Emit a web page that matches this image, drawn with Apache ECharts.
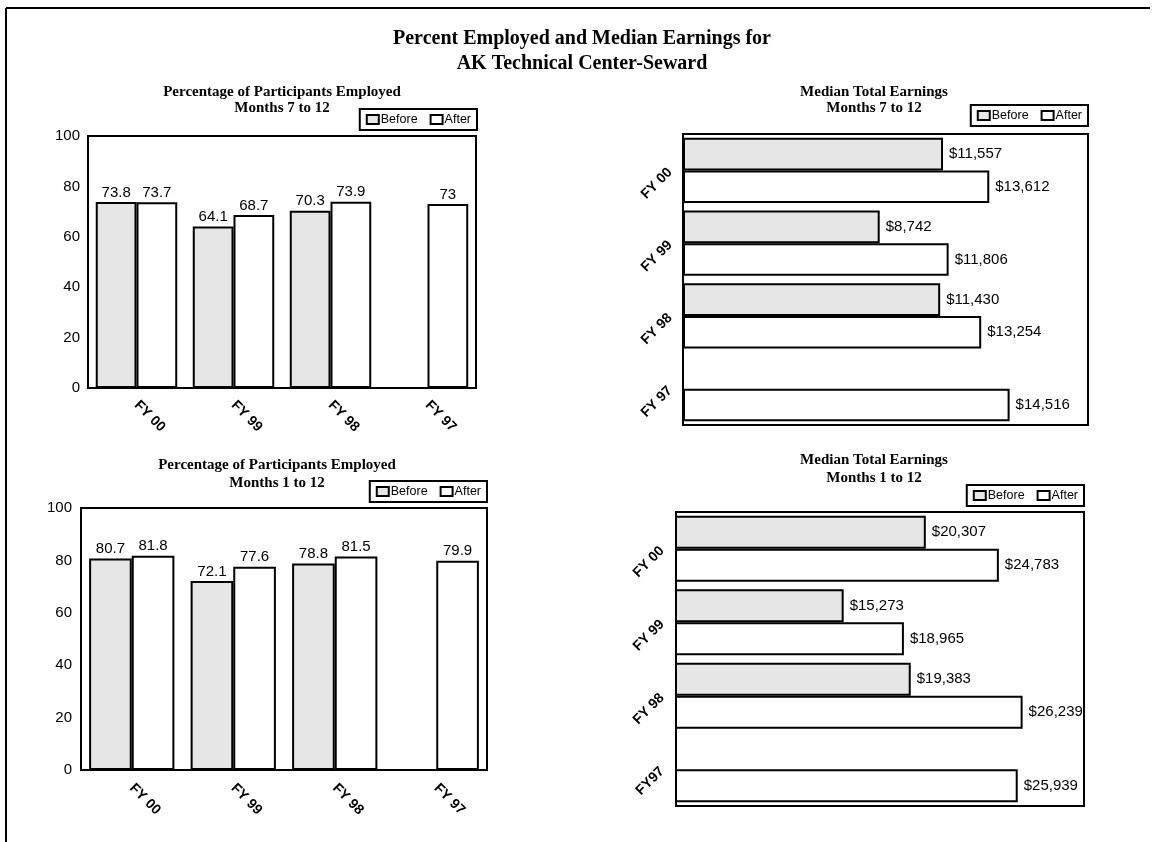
<!DOCTYPE html>
<html>
<head>
<meta charset="utf-8">
<script src="https://cdn.jsdelivr.net/npm/echarts@6/dist/echarts.min.js"></script>
<style>
html,body{margin:0;padding:0;background:#fff;}
#chart{width:1153px;height:842px;}
</style>
</head>
<body>
<div id="chart"></div>
<script>
// ---- data ----
const categories = ['FY 00', 'FY 99', 'FY 98', 'FY 97'];
const categoriesBR = ['FY 00', 'FY 99', 'FY 98', 'FY97'];
const emp712Before = [73.8, 64.1, 70.3, null];
const emp712After = [73.7, 68.7, 73.9, 73];
const emp112Before = [80.7, 72.1, 78.8, null];
const emp112After = [81.8, 77.6, 81.5, 79.9];
const earn712Before = [11557, 8742, 11430, null];
const earn712After = [13612, 11806, 13254, 14516];
const earn112Before = [20307, 15273, 19383, null];
const earn112After = [24783, 18965, 26239, 25939];
const pctTicks = [0, 20, 40, 60, 80, 100];

const SANS = "'Liberation Sans', Arial, sans-serif";
const SERIF = "'Liberation Serif', 'Times New Roman', serif";
const BEFORE_COLOR = '#e6e6e6';

const chart = echarts.init(document.getElementById('chart'), null, {renderer: 'canvas'});

function money(v) { return '$' + v.toLocaleString('en-US'); }

function subTitle(lines, x, top, lh) {
  return {
    text: lines, left: x, top: top, textAlign: 'center',
    textStyle: {fontFamily: SERIF, fontWeight: 'bold', fontSize: 15, lineHeight: lh, color: '#000'}
  };
}
function legend(right, top) {
  return {
    data: ['Before', 'After'], right: right, top: top,
    orient: 'horizontal', icon: 'rect', itemWidth: 12, itemHeight: 9, itemGap: 12,
    borderColor: '#000', borderWidth: 2, padding: [4, 6],
    textStyle: {fontFamily: SANS, fontSize: 12.5, color: '#000', padding: [0, 0, 0, -3]},
    selectedMode: false
  };
}
const gridBase = {show: true, borderColor: '#000', borderWidth: 2, backgroundColor: '#fff', containLabel: false};
const labelFont = {fontFamily: SANS, fontSize: 15, color: '#000'};
const catLabel = {fontFamily: SANS, fontSize: 14, fontWeight: 'bold', color: '#000'};

function vBar(name, data, idx, color) {
  return {
    type: 'bar', name: name, data: data, xAxisIndex: idx, yAxisIndex: idx,
    barWidth: '42%', barGap: '0%',
    itemStyle: {color: color, borderColor: '#000', borderWidth: 2},
    label: Object.assign({show: true, position: 'top', distance: 2}, labelFont),
    animation: false
  };
}
function hBar(name, data, idx, color) {
  return {
    type: 'bar', name: name, data: data, xAxisIndex: idx, yAxisIndex: idx,
    barWidth: '45%', barGap: '0%',
    itemStyle: {color: color, borderColor: '#000', borderWidth: 2},
    label: Object.assign({show: true, position: 'right', distance: 6,
      formatter: p => money(p.value)}, labelFont),
    animation: false
  };
}

const option = {
  backgroundColor: '#fff',
  animation: false,
  title: [
    {
      text: 'Percent Employed and Median Earnings for\nAK Technical Center-Seward',
      left: 577, top: 21, textAlign: 'center',
      textStyle: {fontFamily: SERIF, fontWeight: 'bold', fontSize: 20, lineHeight: 25, color: '#000'}
    },
    subTitle('Percentage of Participants Employed\nMonths 7 to 12', 277, 79, 16),
    subTitle('Median Total Earnings\nMonths 7 to 12', 869, 79, 16),
    subTitle('Percentage of Participants Employed\nMonths 1 to 12', 272, 451, 18),
    subTitle('Median Total Earnings\nMonths 1 to 12', 869, 446, 18)
  ],
  legend: [
    legend(1153 - 477, 109),
    legend(1153 - 1088, 105),
    legend(1153 - 487, 481),
    legend(1153 - 1084, 485)
  ],
  grid: [
    Object.assign({left: 88, top: 136, right: 1153 - 476, bottom: 842 - 388}, gridBase),
    Object.assign({left: 683, top: 134, right: 1153 - 1088, bottom: 842 - 425}, gridBase),
    Object.assign({left: 81, top: 508, right: 1153 - 487, bottom: 842 - 770}, gridBase),
    Object.assign({left: 676, top: 512, right: 1153 - 1084, bottom: 842 - 806}, gridBase)
  ],
  xAxis: [
    {type: 'category', gridIndex: 0, data: categories,
      axisLine: {show: true, lineStyle: {color: '#000', width: 2}}, axisTick: {show: false},
      axisLabel: Object.assign({rotate: -45, margin: 15, interval: 0}, catLabel)},
    {type: 'value', gridIndex: 1, min: 0, max: 18000, show: false, splitLine: {show: false}},
    {type: 'category', gridIndex: 2, data: categories,
      axisLine: {show: true, lineStyle: {color: '#000', width: 2}}, axisTick: {show: false},
      axisLabel: Object.assign({rotate: -45, margin: 16, interval: 0}, catLabel)},
    {type: 'value', gridIndex: 3, min: 5000, max: 30000, show: false, splitLine: {show: false}}
  ],
  yAxis: [
    {type: 'value', gridIndex: 0, min: pctTicks[0], max: pctTicks[pctTicks.length - 1], interval: 20,
      axisLine: {show: false}, axisTick: {show: false}, splitLine: {show: false},
      axisLabel: {margin: 8, fontFamily: SANS, fontSize: 15, color: '#000'}},
    {type: 'category', gridIndex: 1, data: categories, inverse: true,
      axisLine: {show: false}, axisTick: {show: false},
      axisLabel: Object.assign({rotate: 45, margin: 13, interval: 0}, catLabel)},
    {type: 'value', gridIndex: 2, min: pctTicks[0], max: pctTicks[pctTicks.length - 1], interval: 20,
      axisLine: {show: false}, axisTick: {show: false}, splitLine: {show: false},
      axisLabel: {margin: 9, fontFamily: SANS, fontSize: 15, color: '#000'}},
    {type: 'category', gridIndex: 3, data: categoriesBR, inverse: true,
      axisLine: {show: false}, axisTick: {show: false},
      axisLabel: Object.assign({rotate: 45, margin: 14, interval: 0}, catLabel)}
  ],
  series: [
    vBar('Before', emp712Before, 0, BEFORE_COLOR),
    vBar('After', emp712After, 0, '#fff'),
    hBar('Before', earn712Before, 1, BEFORE_COLOR),
    hBar('After', earn712After, 1, '#fff'),
    vBar('Before', emp112Before, 2, BEFORE_COLOR),
    vBar('After', emp112After, 2, '#fff'),
    hBar('Before', earn112Before, 3, BEFORE_COLOR),
    hBar('After', earn112After, 3, '#fff')
  ],
  graphic: [
    {type: 'line', shape: {x1: 6, y1: 8, x2: 1150, y2: 8}, style: {stroke: '#000', lineWidth: 2}},
    {type: 'line', shape: {x1: 6, y1: 8, x2: 6, y2: 842}, style: {stroke: '#000', lineWidth: 2}}
  ]
};
chart.setOption(option);
</script>
</body>
</html>
